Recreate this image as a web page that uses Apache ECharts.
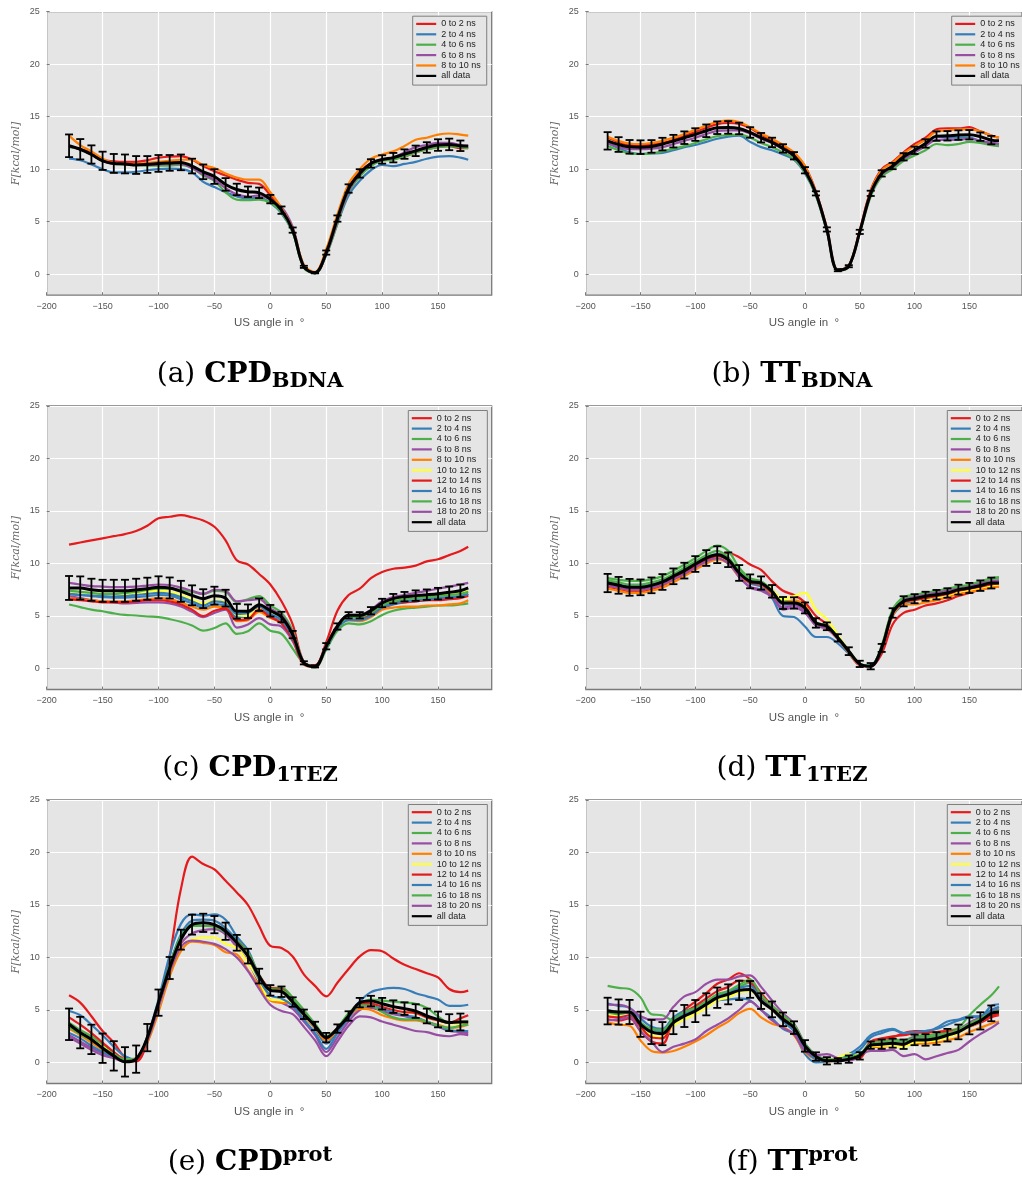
<!DOCTYPE html>
<html>
<head>
<meta charset="utf-8">
<script src="https://cdn.jsdelivr.net/npm/echarts@6.0.0/dist/echarts.min.js"></script>
<style>
  html, body { margin: 0; padding: 0; background: #fff; }
  #chart { width: 1022px; height: 1181px; }
</style>
</head>
<body>
<div id="chart"></div>
<script>
// angles (degrees) where every curve is sampled
const X = [-180,-170,-160,-150,-140,-130,-120,-110,-100,-90,-80,-70,-60,-50,-40,-30,-20,-10,0,10,20,30,40,50,60,70,80,90,100,110,120,130,140,150,160,170,177];
// angles carrying an error bar on the "all data" curve
const ERR_X = [-180,-170,-160,-150,-140,-130,-120,-110,-100,-90,-80,-70,-60,-50,-40,-30,-20,-10,0,10,20,30,40,50,60,70,80,90,100,110,120,130,140,150,160,170];

const NAMES = ['0 to 2 ns','2 to 4 ns','4 to 6 ns','6 to 8 ns','8 to 10 ns','10 to 12 ns','12 to 14 ns','14 to 16 ns','16 to 18 ns','18 to 20 ns'];
const COLORS = ['#e41a1c','#377eb8','#4daf4a','#984ea3','#ff7f00','#ffff33','#e41a1c','#377eb8','#4daf4a','#984ea3'];

const X_TICKS = [-200,-150,-100,-50,0,50,100,150];
const Y_TICKS = [0,5,10,15,20,25];

// (a) CPD BDNA
const a_t0_2  = [12.2,11.9,11.6,10.9,10.75,10.7,10.7,10.85,11.1,11.2,11.25,10.9,10.3,9.8,9.4,9.0,8.7,8.6,7.5,6.2,4.2,0.7,0.1,2.1,5.4,8.2,9.7,10.6,10.9,11.0,11.2,11.6,11.9,12.1,12.2,12.0,12.0];
const a_t2_4  = [11.0,10.85,10.45,10.0,9.7,9.7,9.75,9.9,10.0,10.05,10.0,9.7,8.8,8.3,7.8,7.4,7.2,7.3,6.8,5.8,4.0,0.7,0.1,1.9,4.8,7.5,8.9,9.9,10.4,10.3,10.5,10.7,11.0,11.2,11.25,11.1,10.9];
const a_t4_6  = [12.1,11.9,11.4,10.8,10.5,10.45,10.4,10.35,10.35,10.35,10.4,10.1,9.4,8.9,7.8,7.1,7.05,7.1,6.8,5.9,4.0,0.6,0.1,1.8,4.8,7.8,9.3,10.3,10.8,10.9,11.2,11.6,11.9,12.1,12.2,12.1,12.0];
const a_t6_8  = [12.2,11.9,11.4,10.8,10.5,10.5,10.4,10.4,10.45,10.5,10.5,10.1,9.5,9.0,8.2,7.6,7.4,7.5,7.1,6.4,4.5,0.8,0.1,1.9,5.0,7.9,9.5,10.5,10.9,11.1,11.6,12.1,12.3,12.5,12.5,12.3,12.2];
const a_t8_10 = [13.2,12.3,11.7,11.0,10.6,10.5,10.5,10.6,10.7,10.8,10.9,10.9,10.4,10.1,9.6,9.2,9.0,9.0,7.8,6.3,4.3,0.9,0.2,2.4,5.7,8.6,10.0,11.0,11.4,11.7,12.2,12.8,13.0,13.3,13.4,13.3,13.2];
const a_all   = [12.23,11.9,11.4,10.8,10.55,10.5,10.4,10.45,10.55,10.6,10.65,10.3,9.75,9.3,8.55,8.07,7.85,7.75,7.15,6.1,4.2,0.7,0.13,2.06,5.3,8.16,9.6,10.55,10.93,11.1,11.44,11.75,12.07,12.3,12.36,12.23,12.2];
const a_err   = [1.08,0.97,0.87,0.87,0.9,0.9,0.85,0.8,0.8,0.75,0.75,0.7,0.7,0.7,0.6,0.55,0.5,0.5,0.4,0.35,0.25,0.1,0.05,0.2,0.3,0.4,0.4,0.4,0.4,0.45,0.45,0.5,0.5,0.55,0.55,0.5];

// (b) TT BDNA
const b_t0_2  = [13.0,12.6,12.3,12.3,12.35,12.5,12.8,13.15,13.55,13.95,14.3,14.4,14.3,13.9,13.3,12.8,12.2,11.5,10.3,7.9,4.4,0.4,0.8,4.2,8.0,10.0,10.7,11.6,12.4,13.0,13.8,13.9,13.9,14.0,13.6,13.2,13.0];
const b_t2_4  = [12.5,12.0,11.6,11.45,11.5,11.55,11.8,12.1,12.3,12.6,12.9,13.1,13.2,12.6,12.1,11.8,11.4,10.9,9.6,7.5,4.1,0.35,0.75,4.0,7.6,9.4,10.2,11.0,11.6,12.3,13.1,13.0,13.0,13.0,12.7,12.5,12.4];
const b_t4_6  = [12.2,11.8,11.5,11.45,11.5,11.7,11.95,12.2,12.5,12.85,13.15,13.25,13.3,13.0,12.5,12.1,11.6,11.0,9.7,7.5,4.1,0.35,0.7,3.9,7.4,9.3,10.0,10.8,11.3,11.8,12.4,12.3,12.4,12.6,12.5,12.3,12.2];
const b_t6_8  = [12.5,12.1,11.9,11.9,11.95,12.1,12.4,12.7,13.0,13.35,13.65,13.7,13.7,13.4,12.9,12.5,11.9,11.2,9.9,7.7,4.2,0.4,0.75,4.0,7.6,9.5,10.2,11.0,11.6,12.2,12.8,12.8,12.8,12.9,12.7,12.5,12.4];
const b_t8_10 = [13.1,12.7,12.45,12.4,12.5,12.7,13.0,13.35,13.75,14.15,14.5,14.65,14.5,14.0,13.4,12.9,12.3,11.6,10.3,7.8,4.3,0.4,0.8,4.1,7.9,9.9,10.6,11.5,12.2,12.8,13.6,13.7,13.8,13.8,13.6,13.2,13.0];
const b_all   = [12.7,12.35,12.13,12.1,12.17,12.39,12.67,13.0,13.3,13.66,13.95,13.98,13.88,13.5,13.0,12.55,11.98,11.28,9.9,7.7,4.26,0.38,0.76,4.03,7.7,9.6,10.3,11.18,11.8,12.45,13.15,13.18,13.25,13.28,13.1,12.77,12.7];
const b_err   = [0.83,0.7,0.65,0.65,0.6,0.6,0.6,0.6,0.6,0.6,0.6,0.6,0.55,0.5,0.45,0.45,0.4,0.35,0.3,0.2,0.2,0.1,0.1,0.2,0.25,0.3,0.3,0.35,0.35,0.4,0.45,0.45,0.45,0.45,0.4,0.4];

// (c) CPD 1TEZ
const c_t0_2   = [11.8,12.0,12.2,12.4,12.6,12.8,13.1,13.6,14.3,14.45,14.6,14.4,14.1,13.5,12.2,10.3,9.9,9.0,8.0,6.4,4.2,0.6,0.3,2.5,5.5,7.0,7.6,8.6,9.2,9.5,9.6,9.8,10.2,10.4,10.8,11.2,11.6];
const c_t2_4   = [7.1,7.0,6.9,6.8,6.75,6.75,6.8,6.9,7.0,6.95,6.6,6.2,5.8,6.1,6.0,4.9,4.9,5.6,5.0,4.4,2.9,0.5,0.2,2.0,3.9,4.7,4.6,5.0,5.7,6.1,6.3,6.4,6.5,6.6,6.7,6.8,7.0];
const c_t4_6   = [6.1,5.85,5.6,5.45,5.25,5.1,5.05,4.95,4.9,4.7,4.45,4.1,3.6,3.85,4.3,3.3,3.55,4.3,3.6,3.3,1.9,0.5,0.1,1.8,3.6,4.3,4.2,4.5,5.1,5.5,5.7,5.8,5.9,6.0,6.0,6.1,6.2];
const c_t6_8   = [6.9,6.7,6.5,6.4,6.3,6.2,6.25,6.3,6.3,6.2,5.9,5.4,4.9,5.3,5.6,3.9,4.2,4.8,4.2,4.0,2.6,0.4,0.15,2.1,4.0,4.9,4.8,5.1,5.8,6.2,6.4,6.5,6.6,6.7,6.8,6.9,7.1];
const c_t8_10  = [6.7,6.6,6.5,6.4,6.4,6.4,6.5,6.6,6.7,6.6,6.3,5.9,5.6,5.9,5.8,4.5,4.6,5.4,4.8,4.4,2.9,0.4,0.15,2.0,3.9,4.6,4.5,4.9,5.6,5.8,5.9,5.9,6.0,6.0,6.1,6.2,6.5];
const c_t10_12 = [7.35,7.3,7.2,7.1,7.1,7.1,7.2,7.3,7.4,7.3,7.0,6.6,6.2,6.5,6.3,5.1,5.0,5.8,5.4,4.9,3.4,0.6,0.2,2.2,4.1,4.9,4.9,5.3,6.0,6.5,6.7,6.8,6.9,7.0,7.1,7.2,7.4];
const c_t12_14 = [6.6,6.5,6.4,6.3,6.3,6.3,6.4,6.5,6.5,6.4,6.1,5.6,5.0,5.5,5.7,4.6,4.7,5.6,4.9,4.3,2.8,0.4,0.2,2.2,4.1,5.0,4.9,5.2,5.9,6.2,6.3,6.4,6.5,6.5,6.6,6.7,6.9];
const c_t14_16 = [7.1,7.0,6.95,6.9,6.85,6.9,7.0,7.1,7.2,7.1,6.8,6.4,6.0,6.4,6.2,5.2,5.3,5.9,5.2,4.6,3.0,0.5,0.2,1.9,3.8,4.6,4.6,5.0,5.8,6.2,6.4,6.5,6.6,6.7,6.8,6.9,7.1];
const c_t16_18 = [7.4,7.3,7.2,7.1,7.1,7.2,7.3,7.5,7.6,7.6,7.5,7.3,7.1,7.4,7.3,6.3,6.6,6.9,6.0,5.3,3.6,0.6,0.2,2.0,3.9,4.9,4.9,5.3,6.0,6.4,6.6,6.7,6.8,6.9,7.0,7.1,7.3];
const c_t18_20 = [8.15,8.0,7.85,7.8,7.75,7.75,7.8,7.9,8.0,7.95,7.7,7.4,7.1,7.5,7.4,6.4,6.5,6.6,5.7,5.1,3.4,0.6,0.2,2.2,4.1,5.1,5.1,5.6,6.4,6.8,7.0,7.2,7.4,7.6,7.8,8.0,8.15];
const c_all    = [7.67,7.67,7.5,7.4,7.4,7.4,7.5,7.6,7.73,7.67,7.35,6.97,6.65,6.94,6.7,5.45,5.45,6.08,5.5,4.9,3.23,0.54,0.2,2.12,4.0,5.07,5.07,5.5,6.24,6.65,6.84,6.94,7.03,7.13,7.26,7.4,7.67];
const c_err    = [1.14,1.1,1.05,1.05,1.05,1.05,1.05,1.05,1.05,1.0,1.0,0.95,0.9,0.85,0.8,0.7,0.65,0.6,0.55,0.5,0.35,0.15,0.1,0.3,0.3,0.3,0.3,0.35,0.4,0.45,0.45,0.5,0.5,0.55,0.55,0.6];

// (d) TT 1TEZ
const d_t0_2   = [7.8,7.55,7.35,7.35,7.55,7.9,8.45,9.0,9.65,10.25,10.75,11.0,10.6,9.9,9.4,8.3,7.4,7.0,6.3,5.0,4.2,2.9,1.5,0.3,0.2,1.4,4.2,5.3,5.6,6.0,6.2,6.5,6.9,7.2,7.5,7.7,7.8];
const d_t2_4   = [8.1,7.9,7.7,7.7,7.9,8.2,8.7,9.2,9.8,10.4,10.7,10.2,8.9,8.1,7.8,6.7,5.0,4.9,4.0,3.0,3.0,2.4,1.4,0.4,0.3,2.0,5.0,6.1,6.5,6.8,7.0,7.2,7.5,7.7,7.9,8.1,8.2];
const d_t4_6   = [8.6,8.45,8.35,8.35,8.5,8.8,9.3,9.9,10.5,11.2,11.7,11.2,9.6,8.6,8.3,7.5,6.4,6.4,5.9,4.4,4.1,3.0,1.7,0.45,0.25,2.2,5.6,6.8,7.0,7.2,7.4,7.6,7.8,8.0,8.3,8.6,8.7];
const d_t6_8   = [8.0,7.8,7.6,7.6,7.8,8.1,8.6,9.1,9.7,10.3,10.6,10.1,8.7,7.8,7.5,6.9,5.6,5.8,5.3,4.1,3.8,2.8,1.6,0.4,0.2,1.9,5.1,6.3,6.6,6.8,7.0,7.2,7.5,7.7,7.9,8.2,8.3];
const d_t8_10  = [7.6,7.4,7.2,7.2,7.4,7.7,8.2,8.8,9.4,10.0,10.4,10.0,8.8,8.2,8.0,7.1,6.3,6.5,6.0,4.2,3.8,2.8,1.5,0.35,0.2,1.9,5.0,6.1,6.1,6.3,6.5,6.8,7.1,7.3,7.5,7.7,7.8];
const d_t10_12 = [7.9,7.7,7.5,7.5,7.7,8.0,8.5,9.1,9.7,10.3,10.6,10.3,9.0,8.4,8.2,7.5,6.6,6.9,7.2,5.6,4.7,3.2,1.7,0.45,0.2,2.0,5.3,6.3,6.5,6.6,6.8,7.0,7.3,7.5,7.7,7.9,8.0];
const d_t12_14 = [7.9,7.7,7.5,7.5,7.7,8.0,8.55,9.1,9.75,10.35,10.7,10.3,9.0,8.2,8.0,7.2,6.1,6.2,5.7,4.3,3.9,2.9,1.6,0.4,0.2,1.9,5.2,6.3,6.5,6.7,6.9,7.1,7.4,7.6,7.8,8.0,8.1];
const d_t14_16 = [8.2,8.0,7.8,7.8,8.0,8.3,8.85,9.4,10.0,10.6,10.9,10.4,9.1,8.3,8.1,7.3,6.1,6.1,5.6,4.3,4.0,2.9,1.6,0.4,0.2,2.0,5.4,6.5,6.8,7.0,7.1,7.3,7.6,7.8,8.0,8.2,8.3];
const d_t16_18 = [8.4,8.2,8.0,8.0,8.2,8.5,9.0,9.6,10.2,10.8,11.2,10.6,9.3,8.5,8.3,7.4,6.3,6.3,5.8,4.4,4.1,3.0,1.7,0.45,0.25,2.1,5.5,6.7,6.9,7.1,7.3,7.5,7.7,7.9,8.2,8.5,8.6];
const d_t18_20 = [7.9,7.7,7.5,7.5,7.7,8.0,8.5,9.0,9.6,10.2,10.5,10.0,8.8,7.7,7.4,6.8,5.8,6.0,5.5,4.1,3.8,2.8,1.6,0.4,0.2,1.9,5.2,6.5,6.8,7.0,7.2,7.4,7.6,7.8,8.1,8.3,8.4];
const d_all    = [8.14,7.92,7.73,7.73,7.92,8.24,8.78,9.32,9.95,10.52,10.84,10.36,9.1,8.3,8.14,7.35,6.24,6.24,5.77,4.34,4.02,2.92,1.65,0.44,0.22,1.96,5.29,6.4,6.65,6.88,7.03,7.19,7.51,7.67,7.89,8.14,8.14];
const d_err    = [0.87,0.8,0.8,0.75,0.75,0.75,0.75,0.75,0.75,0.75,0.8,0.7,0.75,0.66,0.63,0.6,0.57,0.54,0.52,0.45,0.37,0.35,0.37,0.3,0.3,0.38,0.45,0.48,0.43,0.43,0.45,0.45,0.47,0.48,0.5,0.52];

// (e) CPD prot
const e_t0_2   = [6.4,5.7,4.4,3.0,1.9,0.5,0.1,1.9,5.4,10.1,16.5,19.6,18.9,18.4,17.3,16.2,15.0,13.0,11.1,10.9,10.1,8.4,7.3,6.3,7.6,8.9,10.1,10.7,10.6,9.9,9.3,8.9,8.5,8.1,7.0,6.7,6.85];
const e_t2_4   = [4.9,4.5,3.6,2.6,1.5,0.6,0.3,2.5,6.0,10.2,13.2,14.1,14.0,14.1,13.6,12.0,10.7,8.3,7.0,6.9,5.8,4.5,3.2,1.8,3.0,4.4,5.8,6.7,7.0,7.1,7.0,6.6,6.3,6.0,5.4,5.4,5.5];
const e_t4_6   = [3.8,3.1,2.5,1.7,0.9,0.3,0.4,2.4,5.6,9.2,12.0,13.1,13.0,13.0,12.7,11.7,10.5,8.4,7.1,7.1,6.2,5.0,3.7,2.5,3.3,4.7,5.6,6.0,5.9,5.8,5.7,5.6,5.2,4.4,3.8,3.9,3.9];
const e_t6_8   = [2.6,2.0,1.4,0.9,0.5,0.2,0.4,2.2,5.3,8.8,11.3,12.3,12.6,12.7,12.2,11.0,9.6,7.6,6.0,5.7,5.1,3.9,2.6,1.0,2.4,3.9,5.0,5.2,4.9,4.6,4.4,4.1,3.8,3.4,3.0,2.9,2.8];
const e_t8_10  = [3.2,2.6,1.9,1.2,0.6,0.2,0.3,1.9,4.8,8.2,10.6,11.5,11.4,11.2,10.5,10.3,8.8,7.3,5.9,5.7,5.6,4.4,3.3,2.1,3.1,4.3,5.1,5.0,4.5,4.2,4.0,4.0,3.8,3.6,3.3,3.4,3.6];
const e_t10_12 = [3.6,2.9,2.2,1.5,0.8,0.3,0.4,2.2,5.2,8.7,11.1,11.7,11.9,11.9,11.3,10.9,9.5,7.8,6.0,5.9,5.7,4.5,3.4,2.3,3.2,4.4,5.4,5.5,5.2,4.9,4.8,4.7,4.3,4.0,3.7,3.7,3.7];
const e_t12_14 = [4.3,3.6,2.8,1.9,1.0,0.3,0.2,2.2,5.5,9.0,11.9,13.0,13.0,13.0,12.6,11.6,10.3,8.3,7.1,7.0,6.0,4.8,3.4,2.3,3.3,4.4,5.6,5.6,5.3,5.0,4.8,4.7,4.3,4.0,3.8,4.2,4.5];
const e_t14_16 = [2.8,2.3,1.6,1.0,0.5,0.2,0.4,2.3,5.6,9.3,12.2,13.5,13.6,13.5,12.8,11.6,10.1,7.9,6.4,6.1,5.4,4.1,2.8,1.3,2.8,4.2,5.4,5.4,5.1,4.8,4.5,4.3,3.9,3.5,3.1,3.0,3.0];
const e_t16_18 = [3.4,2.7,2.1,1.4,0.8,0.3,0.4,2.4,5.7,9.2,12.0,13.0,13.0,12.9,12.4,11.5,10.3,8.2,7.0,6.9,6.1,4.8,3.6,2.4,3.3,4.6,5.4,5.4,4.8,4.3,4.1,4.1,3.9,3.5,3.3,3.5,3.6];
const e_t18_20 = [2.4,1.8,1.2,0.7,0.4,0.1,0.4,2.1,5.2,8.6,11.0,11.6,11.5,11.3,10.8,10.0,8.7,7.0,5.5,4.9,4.6,3.4,2.1,0.6,2.0,3.5,4.4,4.3,3.9,3.6,3.3,3.0,2.9,2.6,2.5,2.7,2.6];
const e_all    = [3.64,2.85,2.2,1.36,0.63,0.06,0.32,2.37,5.7,9.0,11.7,13.13,13.3,13.13,12.5,11.4,10.13,8.23,6.87,6.74,5.76,4.59,3.48,2.37,3.23,4.43,5.7,5.85,5.6,5.32,5.13,4.9,4.43,4.1,3.8,3.86,3.86];
const e_err    = [1.5,1.5,1.4,1.4,1.4,1.4,1.3,1.3,1.25,1.05,0.95,0.95,0.87,0.82,0.82,0.75,0.7,0.7,0.5,0.5,0.45,0.45,0.4,0.45,0.4,0.45,0.45,0.5,0.55,0.6,0.6,0.65,0.7,0.75,0.8,0.8];

// (f) TT prot
const f_t0_2   = [4.1,4.0,4.2,3.0,2.0,1.8,4.0,5.0,5.8,6.6,7.5,7.9,8.5,7.9,6.6,5.4,4.4,3.5,1.6,0.6,0.2,0.2,0.3,0.4,1.9,2.2,2.4,2.8,3.0,3.0,2.9,3.0,3.1,3.4,3.8,4.3,4.5];
const f_t2_4   = [5.6,5.4,5.2,4.2,3.4,3.2,4.3,4.9,5.2,5.5,5.9,6.0,6.1,5.9,5.0,4.2,3.2,2.7,0.8,0.0,0.1,0.4,0.8,1.5,2.6,3.0,3.2,2.8,2.9,2.9,3.3,3.9,4.1,4.4,4.4,5.4,5.55];
const f_t4_6   = [7.3,7.1,7.0,6.2,4.6,4.5,4.0,4.6,5.3,5.8,6.3,6.6,7.2,7.6,6.2,5.3,4.3,3.4,1.7,0.6,0.2,0.2,0.3,0.6,1.9,2.0,2.2,2.1,2.5,2.6,2.7,3.0,3.3,4.5,5.5,6.4,7.25];
const f_t6_8   = [5.5,5.5,5.2,4.4,4.1,4.1,5.3,6.3,6.7,7.5,7.9,7.9,8.2,8.3,7.2,5.9,4.7,3.7,1.8,0.7,0.3,0.2,0.2,0.6,1.8,2.0,2.1,2.0,2.4,2.4,2.5,2.8,3.1,3.8,4.3,4.8,5.1];
const f_t8_10  = [3.8,3.6,3.5,2.1,1.1,0.95,1.1,1.5,2.0,2.6,3.3,3.9,4.7,5.1,4.3,3.7,3.4,2.6,1.0,0.3,0.1,0.2,0.4,0.6,1.4,1.5,1.6,1.6,1.8,1.8,1.9,2.1,2.4,2.9,3.3,3.7,3.9];
const f_t10_12 = [4.5,4.4,4.4,3.2,2.6,2.4,3.5,4.1,4.6,5.2,5.9,6.2,6.7,6.8,5.9,5.0,4.0,3.3,1.6,0.6,0.2,0.5,0.8,0.7,1.5,1.6,1.6,1.5,1.9,2.0,2.1,2.4,2.8,3.4,3.9,4.5,4.6];
const f_t12_14 = [4.4,4.3,4.5,3.4,2.4,2.3,3.8,4.7,5.4,6.1,6.8,7.2,7.8,7.6,6.3,5.3,4.2,3.4,1.5,0.5,0.2,0.2,0.4,0.5,2.0,2.3,2.5,2.6,2.8,2.9,2.9,3.0,3.1,3.5,3.9,4.4,4.6];
const f_t14_16 = [5.0,4.8,4.7,3.8,3.1,3.0,4.0,4.6,5.0,5.6,6.3,6.7,7.1,7.3,6.0,5.1,3.9,3.0,1.2,0.3,0.1,0.3,0.6,1.2,2.4,2.8,3.1,2.8,2.9,3.0,3.2,3.6,4.0,4.3,4.4,5.0,5.3];
const f_t16_18 = [4.8,4.6,4.8,3.8,3.2,3.1,4.1,4.8,5.2,5.8,6.5,6.8,7.4,7.9,6.4,5.4,4.5,3.6,1.8,0.7,0.3,0.3,0.5,0.8,1.8,2.0,2.1,2.0,2.3,2.4,2.5,2.8,3.1,3.7,4.2,4.7,5.0];
const f_t18_20 = [4.0,4.1,4.3,3.0,2.0,1.0,1.5,1.8,2.2,3.0,3.6,4.2,5.0,5.8,5.0,4.0,3.3,2.7,1.1,0.7,0.8,0.4,0.2,0.7,1.1,1.1,1.2,0.6,0.8,0.3,0.6,0.9,1.2,2.0,2.7,3.3,3.8];
const f_all    = [4.9,4.81,4.81,3.64,2.91,2.75,3.8,4.43,4.9,5.54,6.17,6.49,6.87,6.96,5.85,5.06,4.11,3.32,1.58,0.57,0.16,0.16,0.32,0.63,1.65,1.74,1.84,1.74,2.15,2.15,2.28,2.6,2.91,3.48,3.96,4.68,4.81];
const f_err    = [1.27,1.2,1.15,1.2,1.15,1.1,1.1,1.05,1.05,1.05,0.97,0.95,0.92,0.8,0.75,0.75,0.65,0.6,0.55,0.4,0.35,0.25,0.35,0.35,0.35,0.45,0.43,0.45,0.5,0.55,0.6,0.6,0.7,0.8,0.82,0.75];

// panels in reading order
const panels = [
  { lines: [a_t0_2, a_t2_4, a_t4_6, a_t6_8, a_t8_10], all: a_all, err: a_err,
    left: 46.7, top: 11.7, legendLeft: 412.7, tag: '(a) ', main: 'CPD', sub: 'BDNA', sup: '', cx: 250, cy: 375 },
  { lines: [b_t0_2, b_t2_4, b_t4_6, b_t6_8, b_t8_10], all: b_all, err: b_err,
    left: 585.7, top: 11.7, legendLeft: 951.7, tag: '(b) ', main: 'TT', sub: 'BDNA', sup: '', cx: 792, cy: 375 },
  { lines: [c_t0_2, c_t2_4, c_t4_6, c_t6_8, c_t8_10, c_t10_12, c_t12_14, c_t14_16, c_t16_18, c_t18_20], all: c_all, err: c_err,
    left: 46.7, top: 406, legendLeft: 408.3, tag: '(c) ', main: 'CPD', sub: '1TEZ', sup: '', cx: 250, cy: 769 },
  { lines: [d_t0_2, d_t2_4, d_t4_6, d_t6_8, d_t8_10, d_t10_12, d_t12_14, d_t14_16, d_t16_18, d_t18_20], all: d_all, err: d_err,
    left: 585.7, top: 406, legendLeft: 947.3, tag: '(d) ', main: 'TT', sub: '1TEZ', sup: '', cx: 792, cy: 769 },
  { lines: [e_t0_2, e_t2_4, e_t4_6, e_t6_8, e_t8_10, e_t10_12, e_t12_14, e_t14_16, e_t16_18, e_t18_20], all: e_all, err: e_err,
    left: 46.7, top: 800, legendLeft: 408.3, tag: '(e) ', main: 'CPD', sub: '', sup: 'prot', cx: 250, cy: 1163 },
  { lines: [f_t0_2, f_t2_4, f_t4_6, f_t6_8, f_t8_10, f_t10_12, f_t12_14, f_t14_16, f_t16_18, f_t18_20], all: f_all, err: f_err,
    left: 585.7, top: 800, legendLeft: 947.3, tag: '(f) ', main: 'TT', sub: '', sup: 'prot', cx: 792, cy: 1163 }
];

const PLOT_W = 445;
const PLOT_H = 283.5;
const SANS = 'Liberation Sans';
const fmtTick = v => (v < 0 ? '\u2212' + Math.abs(v) : String(v));

const grids = [], xAxes = [], yAxes = [], legends = [], series = [], graphics = [];

panels.forEach((p, k) => {
  grids.push({
    left: p.left, top: p.top, width: PLOT_W, height: PLOT_H,
    show: true, backgroundColor: '#e5e5e5', borderColor: '#7a7a7a', borderWidth: 1.3
  });

  xAxes.push({
    type: 'value', gridIndex: k, min: -200, max: 198,
    name: 'US angle in  \u00b0', nameLocation: 'middle', nameGap: 22,
    nameTextStyle: { fontFamily: SANS, fontSize: 11.5, color: '#555' },
    axisLine: { show: false, onZero: false },
    axisTick: { show: true, inside: true, length: 3, customValues: X_TICKS, lineStyle: { color: '#7a7a7a' } },
    axisLabel: { customValues: X_TICKS, formatter: fmtTick, fontFamily: SANS, fontSize: 9, color: '#555', margin: 7 },
    splitLine: { show: true, lineStyle: { color: '#ffffff', width: 1.2 } }
  });

  yAxes.push({
    type: 'value', gridIndex: k, min: -2, max: 25,
    name: 'F[kcal/mol]', nameLocation: 'middle', nameGap: 25,
    nameTextStyle: { fontFamily: 'DejaVu Serif', fontStyle: 'italic', fontSize: 11, color: '#666' },
    axisLine: { show: false, onZero: false },
    axisTick: { show: true, inside: true, length: 3, customValues: Y_TICKS, lineStyle: { color: '#7a7a7a' } },
    axisLabel: { customValues: Y_TICKS, formatter: fmtTick, fontFamily: SANS, fontSize: 9, color: '#555', margin: 7 },
    splitLine: { show: true, lineStyle: { color: '#ffffff', width: 1.2 } }
  });

  const names = NAMES.slice(0, p.lines.length).concat(['all data']);
  legends.push({
    orient: 'vertical', left: p.legendLeft, top: p.top + 4.5,
    data: names, selectedMode: false,
    icon: 'rect', itemWidth: 20, itemHeight: 2.2, itemGap: 0,
    padding: [2.5, 6, 4, 3.5],
    backgroundColor: '#e5e5e5', borderColor: '#7f7f7f', borderWidth: 1,
    textStyle: { fontFamily: SANS, fontSize: 9, color: '#222', lineHeight: 10.4 }
  });

  p.lines.forEach((vals, i) => {
    series.push({
      name: NAMES[i], type: 'line', xAxisIndex: k, yAxisIndex: k,
      data: X.map((x, j) => [x, vals[j]]),
      smooth: 0.35, symbol: 'none', z: 2, silent: true,
      itemStyle: { color: COLORS[i] },
      lineStyle: { color: COLORS[i], width: 2.2 }
    });
  });

  series.push({
    name: 'all data', type: 'line', xAxisIndex: k, yAxisIndex: k,
    data: X.map((x, j) => [x, p.all[j]]),
    smooth: 0.35, symbol: 'none', z: 3, silent: true,
    itemStyle: { color: '#000' },
    lineStyle: { color: '#000', width: 3 }
  });

  // error bars of the averaged curve
  series.push({
    type: 'custom', xAxisIndex: k, yAxisIndex: k, z: 4, silent: true,
    data: ERR_X.map((x, j) => [x, p.all[j] - p.err[j], p.all[j] + p.err[j]]),
    encode: { x: 0, y: [1, 2] },
    renderItem: (params, api) => {
      const lo = api.coord([api.value(0), api.value(1)]);
      const hi = api.coord([api.value(0), api.value(2)]);
      const st = { stroke: '#000', lineWidth: 1.8 };
      return {
        type: 'group',
        children: [
          { type: 'line', shape: { x1: lo[0], y1: lo[1], x2: hi[0], y2: hi[1] }, style: st },
          { type: 'line', shape: { x1: lo[0] - 4, y1: lo[1], x2: lo[0] + 4, y2: lo[1] }, style: st },
          { type: 'line', shape: { x1: hi[0] - 4, y1: hi[1], x2: hi[0] + 4, y2: hi[1] }, style: st }
        ]
      };
    }
  });

  // subfigure caption
  let txt = '{n|' + p.tag + '}{b|' + p.main + '}';
  if (p.sub) txt += '{s|' + p.sub + '}';
  if (p.sup) txt += '{p|' + p.sup + '}';
  graphics.push({
    type: 'text', x: p.cx, y: p.cy, silent: true,
    style: {
      text: txt, align: 'center', verticalAlign: 'middle',
      rich: {
        n: { fontFamily: 'DejaVu Serif', fontSize: 28, lineHeight: 35, fill: '#000' },
        b: { fontFamily: 'DejaVu Serif', fontWeight: 'bold', fontSize: 28, lineHeight: 35, fill: '#000' },
        s: { fontFamily: 'DejaVu Serif', fontWeight: 'bold', fontSize: 21, lineHeight: 21, verticalAlign: 'bottom', fill: '#000' },
        p: { fontFamily: 'DejaVu Serif', fontWeight: 'bold', fontSize: 21, lineHeight: 21, verticalAlign: 'top', fill: '#000' }
      }
    }
  });
});

const chart = echarts.init(document.getElementById('chart'));
chart.setOption({
  animation: false,
  backgroundColor: '#ffffff',
  grid: grids,
  xAxis: xAxes,
  yAxis: yAxes,
  legend: legends,
  series: series,
  graphic: graphics
});
</script>
</body>
</html>
